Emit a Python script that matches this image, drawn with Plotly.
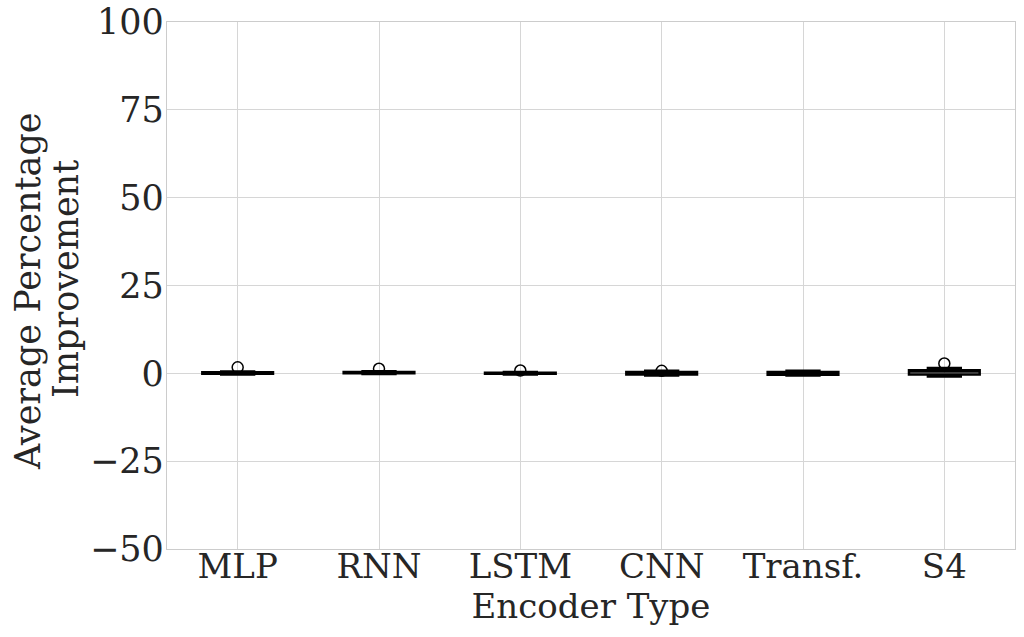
import plotly.graph_objects as go

categories = ["MLP", "RNN", "LSTM", "CNN", "Transf.", "S4"]
q1 = [-0.1, 0.0, -0.1, -0.3, -0.4, -0.3]
median = [0.1, 0.2, 0.05, 0.1, 0.1, 0.5]
q3 = [0.3, 0.35, 0.2, 0.4, 0.4, 0.9]
lowerfence = [-0.3, -0.2, -0.3, -0.6, -0.6, -0.9]
upperfence = [0.5, 0.6, 0.4, 0.7, 0.7, 1.5]
outlier_x = ["MLP", "RNN", "LSTM", "CNN", "S4"]
outlier_y = [1.7, 1.3, 0.8, 0.7, 2.8]

y_ticks = [-50, -25, 0, 25, 50, 75, 100]
y_ticktext = ["−50", "−25", "0", "25", "50", "75", "100"]
y_title_lines = ["Average Percentage", "Improvement"]

FONT = "DejaVu Serif"
TXT = "#262626"
W, H = 1024, 637
ML, MR, MT, MB = 167, 9, 22, 88
PW, PH = W - ML - MR, H - MT - MB

fig = go.Figure()
fig.add_trace(go.Box(
    x=categories, q1=q1, median=median, q3=q3,
    lowerfence=lowerfence, upperfence=upperfence,
    width=0.5, whiskerwidth=0.5,
    fillcolor="rgba(255,255,255,0)",
    line=dict(color="black", width=2.5),
    boxpoints=False, showlegend=False, hoverinfo="skip",
))
fig.add_trace(go.Scatter(
    x=outlier_x, y=outlier_y, mode="markers",
    marker=dict(symbol="circle-open", size=11, color="black", line=dict(width=1.5)),
    showlegend=False,
))

# y-axis title as two rotated lines (matplotlib-like line spacing)
for line, px_x, px_y in zip(y_title_lines, [28, 66], [291, 279]):
    fig.add_annotation(
        text=line, textangle=-90, showarrow=False,
        xref="paper", yref="paper",
        x=(px_x - ML) / PW, y=(MT + PH - px_y) / PH,
        xanchor="center", yanchor="middle",
        font=dict(family=FONT, size=35, color=TXT),
    )

fig.update_layout(
    width=W, height=H,
    margin=dict(l=ML, r=MR, t=MT, b=MB),
    paper_bgcolor="white", plot_bgcolor="white",
    font=dict(family=FONT, size=35, color=TXT),
)
fig.update_xaxes(
    type="category", categoryorder="array", categoryarray=categories,
    range=[-0.5, len(categories) - 0.5],
    automargin=False, ticklabeloverflow="allow",
    showgrid=True, gridcolor="#d6d6d6", gridwidth=1.3,
    showline=True, linecolor="#cccccc", linewidth=1.3, mirror=True,
    ticks="", tickfont=dict(size=34), ticklabelstandoff=-13,
    title=dict(text="Encoder Type", font=dict(size=34), standoff=0),
)
fig.update_yaxes(
    range=[-50, 100], tickvals=y_ticks, ticktext=y_ticktext,
    automargin=False, ticklabeloverflow="allow",
    showgrid=True, gridcolor="#d6d6d6", gridwidth=1.3, zeroline=False,
    showline=True, linecolor="#cccccc", linewidth=1.3, mirror=True,
    ticks="", tickfont=dict(size=35), ticklabelstandoff=-5,
)
fig.write_html("out.html", config={"displayModeBar": False},
               post_script="document.body.style.margin='0';")
